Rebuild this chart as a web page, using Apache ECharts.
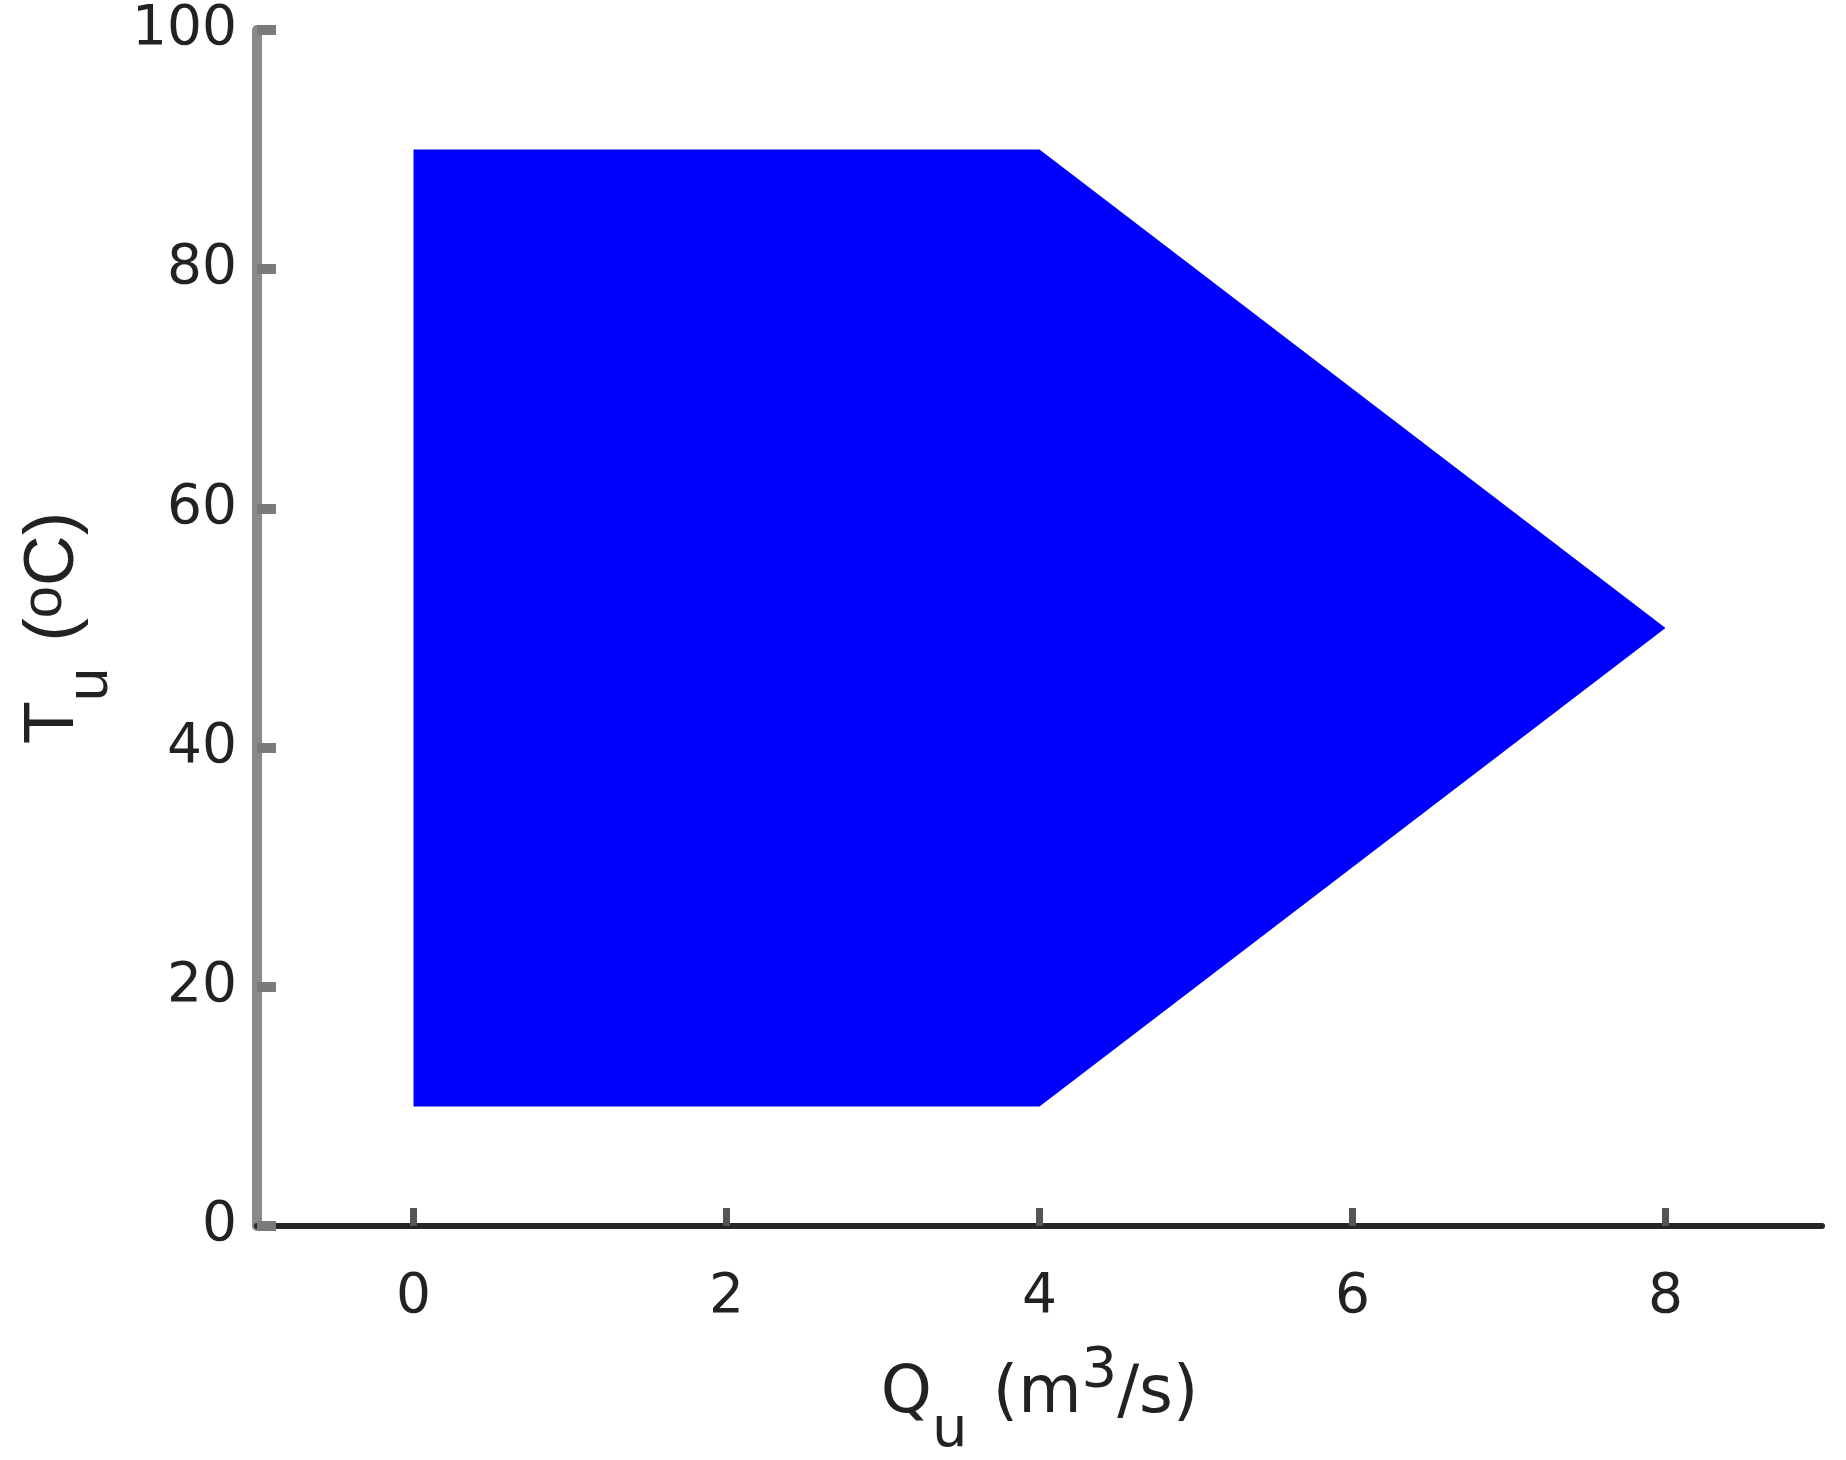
<!DOCTYPE html>
<html lang="en">
<head>
    <meta charset="UTF-8">
    <title>Feasible region Qu - Tu</title>
    <script src="https://cdn.jsdelivr.net/npm/echarts@6/dist/echarts.min.js"></script>
    <style>
        html, body { margin: 0; padding: 0; background: #fff; }
        #chart { width: 1846px; height: 1460px; }
    </style>
</head>
<body>
    <div id="chart"></div>
    <script>
        // polygon corners of the feasible region (Qu in m3/s, Tu in oC)
        var regionQ = [0, 0, 4, 8, 4];
        var regionT = [10, 90, 90, 50, 10];

        // axis ticks
        var xTicks = [0, 2, 4, 6, 8];
        var yTicks = [0, 20, 40, 60, 80, 100];

        var points = regionQ.map(function (q, i) { return [q, regionT[i]]; });

        var myChart = echarts.init(document.getElementById('chart'));

        var wide = 'DejaVu Sans, Verdana, sans-serif';
        var narrow = 'Liberation Sans, Arial, sans-serif';
        var ink = '#222';
        var labelFont = { fontFamily: wide, fontSize: 55, color: ink };

        // x name: Q_u (m^3/s)
        var xNameRich = {
            a: { fontFamily: wide, fontSize: 65, color: ink, lineHeight: 130, verticalAlign: 'middle' },
            sp: { fontFamily: wide, fontSize: 80, lineHeight: 130, verticalAlign: 'middle' },
            sub: { fontFamily: wide, fontSize: 56, color: ink, lineHeight: 36, verticalAlign: 'bottom' },
            sup: { fontFamily: wide, fontSize: 56, color: ink, lineHeight: 90, verticalAlign: 'top', padding: [14, 0, 0, 0] }
        };
        // y name: T_u (^oC)
        var yNameRich = {
            a: { fontFamily: narrow, fontSize: 70, color: ink, lineHeight: 132, verticalAlign: 'middle' },
            sp: { fontFamily: narrow, fontSize: 95, lineHeight: 132, verticalAlign: 'middle' },
            sub: { fontFamily: narrow, fontSize: 60, color: ink, lineHeight: 66, verticalAlign: 'bottom' },
            sup: { fontFamily: narrow, fontSize: 58, color: ink, lineHeight: 105, verticalAlign: 'top', padding: [28, 0, 0, 0] }
        };

        var option = {
            animation: false,
            grid: { left: 257, right: 24, top: 30, bottom: 234, outerBoundsMode: 'none', containLabel: false },
            xAxis: {
                type: 'value',
                min: -1,
                max: 9,
                name: '{a|Q}{sub|u}{sp| }{a|(m}{sup|3}{a|/s)}',
                nameLocation: 'middle',
                nameGap: 94,
                nameTextStyle: { rich: xNameRich },
                axisLine: { onZero: false, lineStyle: { color: '#262626', width: 6 } },
                axisTick: { inside: true, length: 18, customValues: xTicks, lineStyle: { color: '#555', width: 7 } },
                axisLabel: Object.assign({ margin: 44, customValues: xTicks }, labelFont),
                splitLine: { show: false }
            },
            yAxis: {
                type: 'value',
                min: yTicks[0],
                max: yTicks[yTicks.length - 1],
                interval: 20,
                name: '{a|T}{sub|u}{sp| }{a|(}{sup|o}{a|C)}',
                nameLocation: 'middle',
                nameGap: 137,
                nameRotate: 90,
                nameTextStyle: { rich: yNameRich },
                axisLine: { onZero: false, lineStyle: { color: '#8a8a8a', width: 10 } },
                axisTick: { inside: true, length: 19, lineStyle: { color: '#7a7a7a', width: 10 } },
                axisLabel: Object.assign({ margin: 20 }, labelFont),
                splitLine: { show: false }
            },
            series: [{
                type: 'custom',
                data: points,
                renderItem: function (params, api) {
                    if (params.dataIndex !== 0) return null;
                    var pts = points.map(function (p) { return api.coord(p); });
                    return {
                        type: 'polygon',
                        shape: { points: pts },
                        style: { fill: '#0000ff', stroke: null }
                    };
                }
            }]
        };

        myChart.setOption(option);
    </script>
</body>
</html>
